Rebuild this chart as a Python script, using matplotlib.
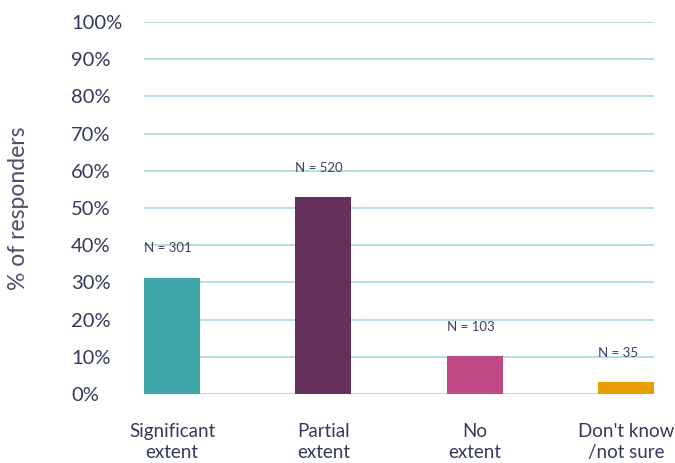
import matplotlib.pyplot as plt
import numpy as np

categories = ['Significant\nextent', 'Partial\nextent', 'No\nextent', "Don't know\n/not sure"]
pct = [31.3, 53.0, 10.2, 3.3]
counts = [301, 520, 103, 35]
colors = ['#3fa7a8', '#64305c', '#c04a87', '#eb9c00']

plt.rcParams['font.family'] = ['Lato', 'DejaVu Sans']
text_col = '#34395a'

fig = plt.figure(figsize=(6.75, 4.63), dpi=100)
ax = fig.add_axes([0.2133, 0.149, 0.7557, 0.8035])

x = np.arange(len(categories))
w = 0.37
ax.bar(x, pct, width=w, color=colors, zorder=3)

for xi, p, n in zip(x, pct, counts):
    ax.annotate('N = %d' % n, (xi - w / 2, p), xytext=(0, 21), textcoords='offset points',
                ha='left', va='center', fontsize=9.5, color='#3d4260')

ax.set_xlim(-w / 2, 3 + w / 2)
ax.set_ylim(0, 100)
ax.set_yticks(range(0, 101, 10))
ax.set_yticklabels(['%d%%' % v for v in range(0, 101, 10)])
ax.yaxis.grid(True, color='#a8d9dc', linewidth=1.2, zorder=0)
ax.set_axisbelow(True)
for s in ax.spines.values():
    s.set_visible(False)

ax.tick_params(axis='y', length=0, pad=52.5, labelsize=14.5, labelcolor=text_col)
for lbl in ax.get_yticklabels():
    lbl.set_ha('left')
ax.set_xticks(x)
ax.set_xticklabels(categories, linespacing=1.25)
ax.tick_params(axis='x', length=0, pad=21, labelsize=13.5, labelcolor=text_col)

ax.set_ylabel('% of responders', fontsize=16.5, color='#4a4e68')
ax.yaxis.set_label_coords(-0.226, 0.5)

fig.savefig('out.png', dpi=100)
